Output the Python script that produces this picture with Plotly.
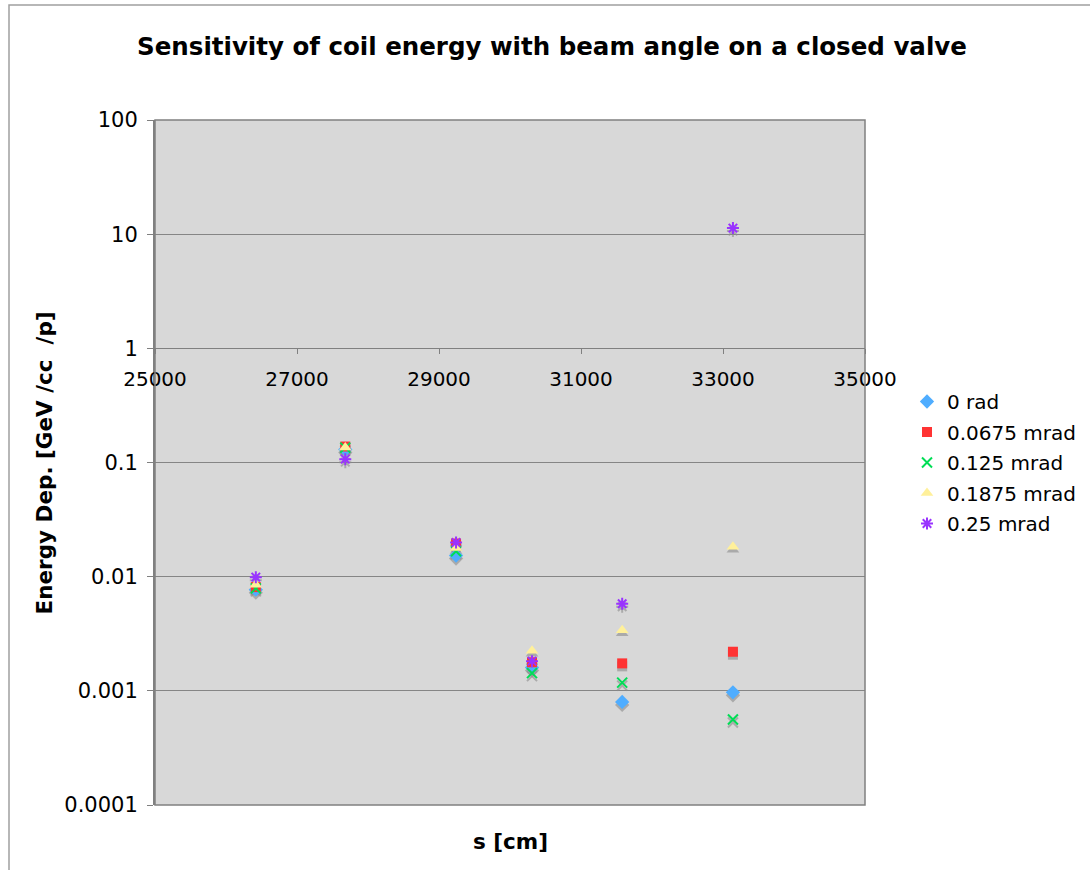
import plotly.graph_objects as go

# ---- data ----
s_cm = [26420, 27680, 29240, 30310, 31580, 33140]
e_0rad = [0.0077, 0.130, 0.0153, 0.0016, 0.00080, 0.00097]
e_00675 = [0.0081, 0.138, 0.0195, 0.00178, 0.00174, 0.0022]
e_0125 = [0.0079, 0.135, 0.0167, 0.00143, 0.00118, 0.00056]
e_01875 = [0.0085, 0.135, 0.0178, 0.00225, 0.0034, 0.0183]
e_025 = [0.0099, 0.107, 0.0199, 0.00182, 0.0058, 11.3]

series_names = ["0 rad", "0.0675 mrad", "0.125 mrad", "0.1875 mrad", "0.25 mrad"]
series_vals = [e_0rad, e_00675, e_0125, e_01875, e_025]
series_colors = ["#4fadff", "#ff3333", "#00dd55", "#fff09a", "#9933ff"]
series_symbols = ["diamond", "square", "x-thin-open", "triangle-up", "asterisk-open"]
series_sizes = [11, 10, 10, 11, 10]

x_ticks = [25000, 27000, 29000, 31000, 33000, 35000]
y_ticks = [0.0001, 0.001, 0.01, 0.1, 1, 10, 100]
y_ticktext = ["0.0001", "0.001", "0.01", "0.1", "1", "10", "100"]

title_text = "Sensitivity of coil energy with beam angle on a closed valve"
x_title = "s [cm]"
y_title = "Energy Dep. [GeV /cc  /p]"

FONT = "DejaVu Sans"
fig = go.Figure()

# empty trace so the base x/y subplot (grid, ticks) exists
fig.add_trace(go.Scatter(x=[None], y=[None], mode="markers", showlegend=False,
                         hoverinfo="skip", xaxis="x", yaxis="y"))

# shadows (on shifted overlay axis y2)
for vals, sym, sz in zip(series_vals, series_symbols, series_sizes):
    open_sym = sym.endswith("open")
    fig.add_trace(go.Scatter(
        x=s_cm, y=vals, mode="markers", yaxis="y2", showlegend=False,
        hoverinfo="skip",
        marker=dict(symbol=sym, size=sz, color="rgba(140,140,140,0.6)",
                    line=dict(width=2 if open_sym else 0, color="rgba(140,140,140,0.6)")),
    ))

# main markers (on overlay axis y3)
for name, vals, col, sym, sz in zip(series_names, series_vals, series_colors, series_symbols, series_sizes):
    open_sym = sym.endswith("open")
    fig.add_trace(go.Scatter(
        x=s_cm, y=vals, mode="markers", name=name, yaxis="y3",
        legendgroup=name,
        marker=dict(symbol=sym, size=sz, color=col,
                    line=dict(width=2 if open_sym else 0, color=col)),
    ))

shift = 3 / 114.17
fig.update_layout(
    width=1090, height=870,
    margin=dict(l=155, r=225, t=120, b=65, autoexpand=False),
    paper_bgcolor="white",
    plot_bgcolor="#d8d8d8",
    font=dict(family=FONT, size=19, color="black"),
    title=dict(text="<b>" + title_text + "</b>", x=552 / 1090, xanchor="center",
               y=1 - 46 / 870, yanchor="middle",
               font=dict(family=FONT, size=24.5, color="black")),
    xaxis=dict(range=[25000, 35000], tickvals=x_ticks, ticktext=[str(v) for v in x_ticks],
               anchor="free", position=4 / 6, showgrid=False, zeroline=False,
               showline=True, linecolor="#808080", linewidth=1,
               ticks="outside", ticklen=5, tickcolor="#808080",
               ticklabelstandoff=8,
               tickfont=dict(family=FONT, size=20)),
    yaxis=dict(type="log", range=[-4, 2], tickvals=y_ticks, ticktext=y_ticktext,
               showgrid=True, gridcolor="#858585", gridwidth=1,
               showline=True, linecolor="#808080", linewidth=2,
               ticks="outside", ticklen=6, tickcolor="#808080",
               ticklabelstandoff=5,
               tickfont=dict(family=FONT, size=21), zeroline=False),
    yaxis2=dict(type="log", range=[-4 + shift, 2 + shift], overlaying="y",
                visible=False, showgrid=False),
    yaxis3=dict(type="log", range=[-4, 2], overlaying="y",
                visible=False, showgrid=False),
    legend=dict(x=(907 - 155) / 710, y=(805 - 382) / 685, xanchor="left", yanchor="top",
                font=dict(family=FONT, size=20), bgcolor="rgba(0,0,0,0)",
                traceorder="grouped", tracegroupgap=1.5),
    showlegend=True,
    annotations=[
        dict(text="<b>" + x_title + "</b>", xref="paper", yref="paper",
             x=(510 - 155) / 710, y=(805 - 841) / 685, showarrow=False,
             xanchor="center", yanchor="middle", font=dict(family=FONT, size=21.5)),
        dict(text="<b>" + y_title + "</b>", xref="paper", yref="paper",
             x=(44 - 155) / 710, y=0.5, showarrow=False, textangle=-90,
             xanchor="center", yanchor="middle", font=dict(family=FONT, size=21.5)),
    ],
    shapes=[
        dict(type="rect", xref="paper", yref="paper", x0=0, x1=1, y0=0, y1=1,
             line=dict(color="#808080", width=1.5), layer="above"),
        dict(type="rect", xref="paper", yref="paper",
             x0=(9 - 155) / 710, x1=2, y0=-1, y1=(805 - 5) / 685,
             line=dict(color="#a0a0a0", width=1.5), layer="below"),
    ],
)

fig.write_html("out.html")
